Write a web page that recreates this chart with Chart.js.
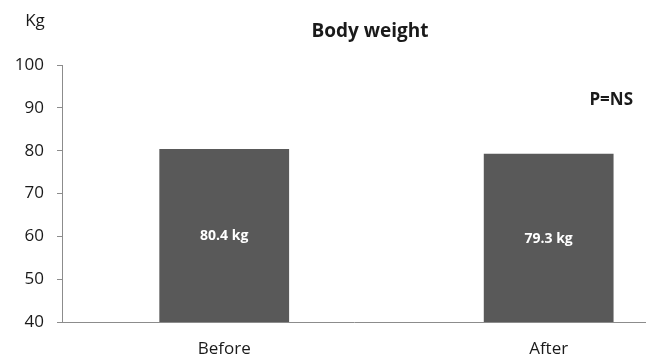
<!DOCTYPE html>
<html lang="en">
  <head>
    <meta charset="UTF-8" />
    <title>Body weight</title>
    <script src="https://cdn.jsdelivr.net/npm/chart.js"></script>
    <style>
      html, body { margin: 0; padding: 0; background: #fff; }
      #wrap { width: 646px; height: 356px; position: relative; }
    </style>
  </head>
  <body>
    <div id="wrap"><canvas id="weightChart"></canvas></div>
    <script>
      const categories = ["Before", "After"];
      const weights = [80.4, 79.3];
      const barLabels = ["80.4 kg", "79.3 kg"];
      const yTicks = [40, 50, 60, 70, 80, 90, 100];

      const FONT = "'Open Sans', sans-serif";

      // title, unit and p-value, plus the labels inside the bars
      const textPlugin = {
        id: "texts",
        afterDatasetsDraw(chart) {
          const ctx = chart.ctx;
          ctx.save();
          ctx.fillStyle = "#1a1a1a";
          ctx.textBaseline = "middle";
          ctx.font = "bold 19px " + FONT;
          ctx.textAlign = "center";
          ctx.fillText("Body weight", 370, 32);
          ctx.textAlign = "right";
          ctx.font = "bold 17px " + FONT;
          ctx.fillText("P=NS", 633, 100);
          ctx.font = "17px " + FONT;
          ctx.textAlign = "center";
          ctx.fillText("Kg", 35, 21);

          const meta = chart.getDatasetMeta(0);
          const base = chart.scales.y.getPixelForValue(chart.scales.y.min);
          ctx.fillStyle = "#fff";
          ctx.font = "bold 14px " + FONT;
          meta.data.forEach((bar, i) => {
            const mid = (bar.y + base) / 2 + 1;
            ctx.fillText(barLabels[i], bar.x, mid);
          });
          ctx.restore();
        },
      };

      new Chart(document.getElementById("weightChart"), {
        type: "bar",
        data: {
          datasets: [
            {
              data: weights.map((w, i) => ({ x: i, y: w })),
              backgroundColor: "#595959",
              barPercentage: 0.4,
              categoryPercentage: 1,
            },
          ],
        },
        options: {
          responsive: true,
          maintainAspectRatio: false,
          animation: false,
          layout: { padding: { top: 65, right: 0, left: 0, bottom: 0 } },
          plugins: { legend: { display: false }, tooltip: { enabled: false } },
          scales: {
            x: {
              type: "linear",
              offset: false,
              min: -0.5,
              max: 1.3,
              afterBuildTicks(scale) {
                scale.ticks = categories.map((c, i) => ({ value: i }));
              },
              afterFit(scale) { scale.height = 34; },
              ticks: {
                callback: (v) => categories[v] ?? "",
                color: "#1a1a1a",
                font: { family: FONT, size: 17 },
                padding: 9,
                autoSkip: false,
                maxRotation: 0,
              },
              grid: { display: false },
              border: { display: true, color: "#8c8c8c", width: 1 },
            },
            y: {
              min: 40,
              max: 100,
              afterBuildTicks(scale) {
                scale.ticks = yTicks.map((v) => ({ value: v }));
              },
              afterFit(scale) { scale.width = 62; },
              ticks: {
                color: "#1a1a1a",
                font: { family: FONT, size: 17 },
                padding: 13,
              },
              grid: {
                drawOnChartArea: false,
                drawTicks: true,
                tickLength: 5,
                color: "#8c8c8c",
              },
              border: { display: true, color: "#8c8c8c", width: 1 },
            },
          },
        },
        plugins: [textPlugin],
      });
    </script>
  </body>
</html>
